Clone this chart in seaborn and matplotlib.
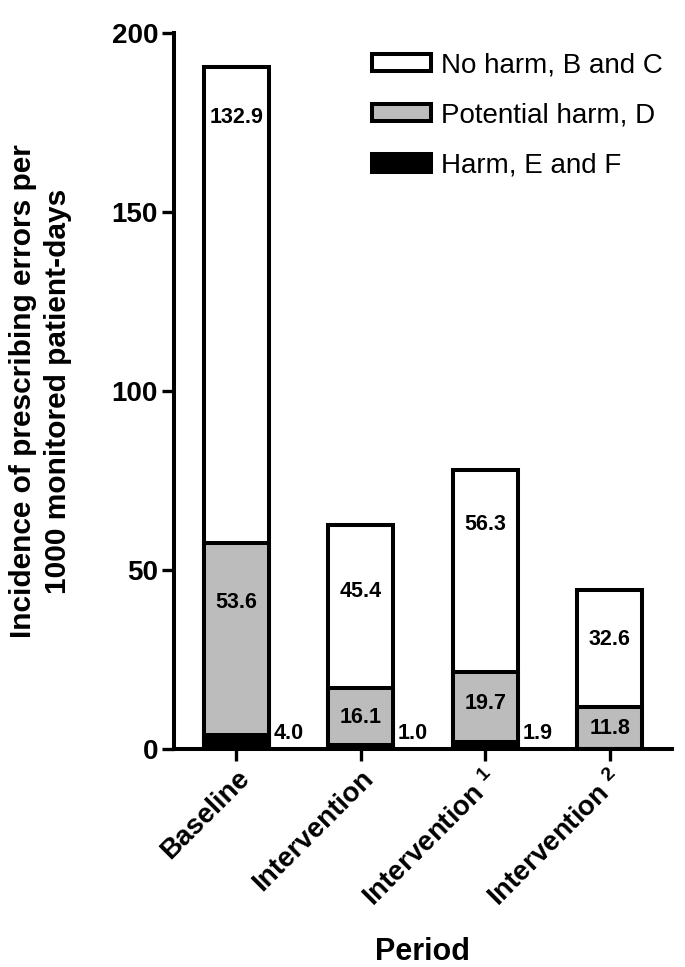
import numpy as np
import pandas as pd
import matplotlib
matplotlib.use("Agg")
import matplotlib.pyplot as plt
from matplotlib.patches import Patch
import seaborn as sns

# data (errors per 1000 monitored patient-days)
periods = ["Baseline", "Intervention", "Intervention $^1$", "Intervention $^2$"]
harm = [4.0, 1.0, 1.9, 0.0]
potential = [53.6, 16.1, 19.7, 11.8]
no_harm = [132.9, 45.4, 56.3, 32.6]

df = pd.DataFrame({"period": periods, "harm": harm,
                   "potential": potential, "no_harm": no_harm})
df["cum_pot"] = df["harm"] + df["potential"]
df["total"] = df["cum_pot"] + df["no_harm"]

sns.set_style("ticks")
plt.rcParams["font.family"] = ["Liberation Sans", "DejaVu Sans"]
plt.rcParams["mathtext.default"] = "regular"
for k in ["text.color", "axes.labelcolor", "xtick.color", "ytick.color", "axes.edgecolor"]:
    plt.rcParams[k] = "black"

fig = plt.figure(figsize=(6.85, 9.67), dpi=100)
ax = fig.add_axes([0.254, 0.2255, 0.727, 0.7405])

lw = 2.9
gray = "#bcbcbc"
bw = 0.52
sns.barplot(data=df, x="period", y="total", color="white", edgecolor="black",
            linewidth=lw, width=bw, saturation=1, ax=ax)
sns.barplot(data=df, x="period", y="cum_pot", color=gray, edgecolor="black",
            linewidth=lw, width=bw, saturation=1, ax=ax)
sns.barplot(data=df, x="period", y="harm", color="black", edgecolor="black",
            linewidth=lw, width=bw, saturation=1, ax=ax)

# value labels (heights picked to sit like the original)
nh_label_y = [176.5, 43.9, 62.8, 30.7]
pot_label_y = [40.8, 8.9, 12.8, 5.6]
for i, row in df.iterrows():
    ax.text(i, nh_label_y[i], f"{row['no_harm']:.1f}", ha="center", va="center",
            fontsize=15.5, fontweight="bold")
    ax.text(i, pot_label_y[i], f"{row['potential']:.1f}", ha="center", va="center",
            fontsize=15.5, fontweight="bold")
    if row["harm"] > 0:
        ax.text(i + 0.42, 4.4, f"{row['harm']:.1f}", ha="center", va="center",
                fontsize=15.5, fontweight="bold")

ax.set_xlim(-0.5, 3.5)
ax.set_ylim(0, 200)
ax.set_yticks([0, 50, 100, 150, 200])
sns.despine(ax=ax)
for s in ["left", "bottom"]:
    ax.spines[s].set_linewidth(2.9)
ax.tick_params(axis="both", width=2.4, length=8.5, labelsize=20)
ax.tick_params(axis="y", pad=3)
for lab in ax.get_yticklabels():
    lab.set_fontweight("bold")
ax.set_xticks(range(len(periods)))
ax.set_xticklabels(periods, rotation=45, ha="right", rotation_mode="anchor",
                   fontsize=20, fontweight="bold")

ax.set_ylabel("Incidence of prescribing errors per\n1000 monitored patient-days",
              fontsize=21.5, fontweight="bold", linespacing=1.3,
              family=["Liberation Sans Narrow", "Liberation Sans"])
ax.yaxis.set_label_coords(-0.205, 0.5)
ax.set_xlabel("Period", fontsize=22, fontweight="bold")
ax.xaxis.set_label_coords(0.5, -0.262)

handles = [Patch(facecolor="white", edgecolor="black", linewidth=lw, label="No harm, B and C"),
           Patch(facecolor=gray, edgecolor="black", linewidth=lw, label="Potential harm, D"),
           Patch(facecolor="black", edgecolor="black", linewidth=lw, label="Harm, E and F")]
ax.legend(handles=handles, loc="upper left", bbox_to_anchor=(0.398, 0.973),
          frameon=False, fontsize=20, handlelength=2.1, handleheight=0.58,
          handletextpad=0.36, labelspacing=0.875, borderaxespad=0, borderpad=0)

fig.savefig("out.png", dpi=100)
